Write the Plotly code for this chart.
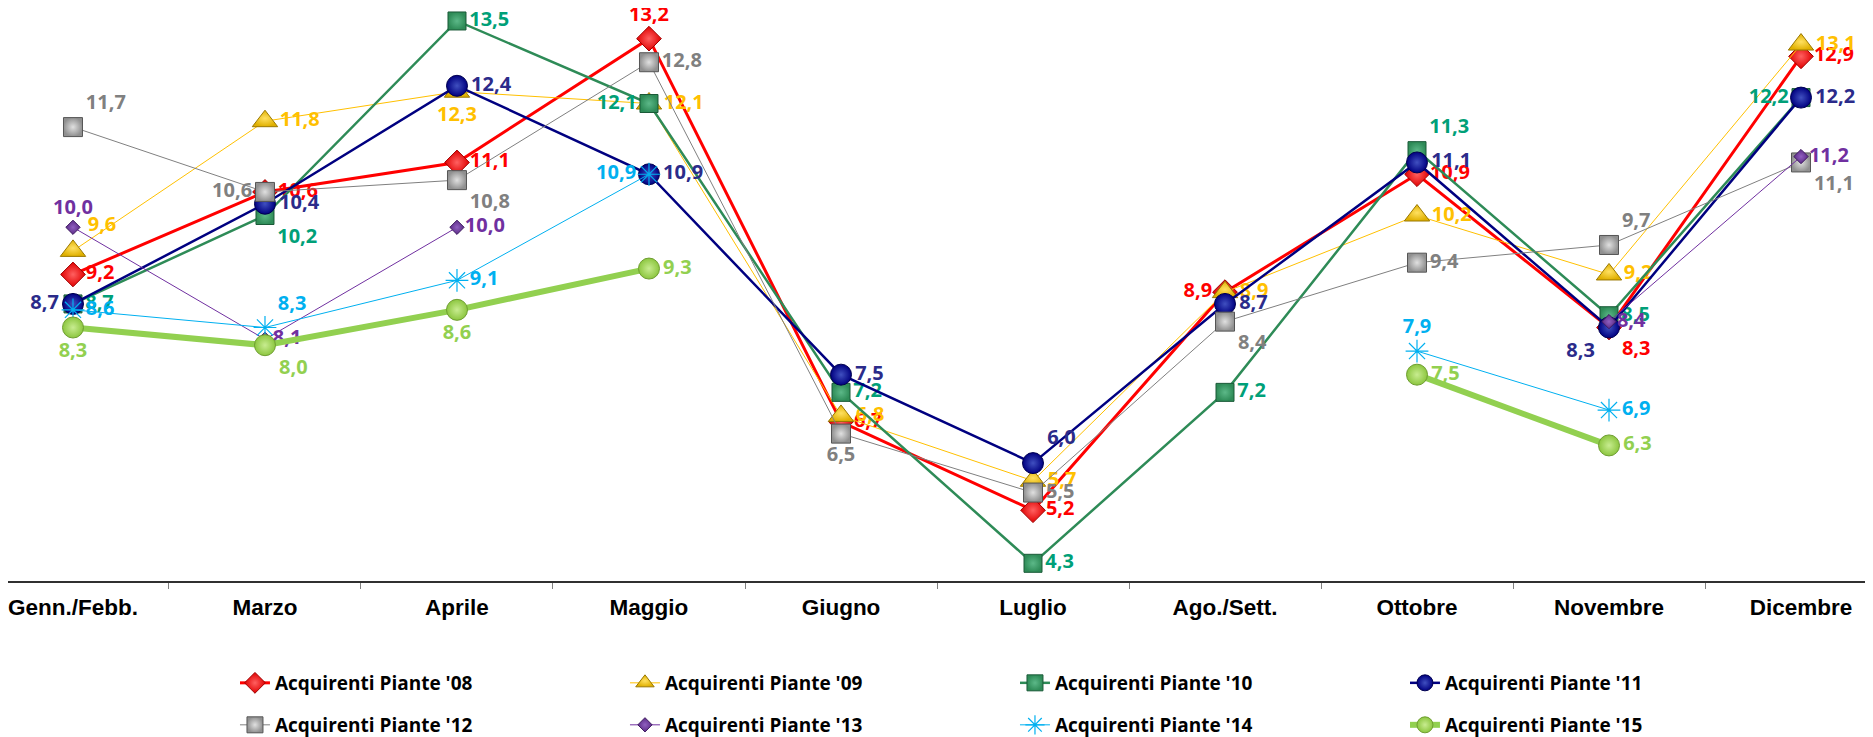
import plotly.graph_objects as go

categories = ["Genn./Febb.", "Marzo", "Aprile", "Maggio", "Giugno", "Luglio",
              "Ago./Sett.", "Ottobre", "Novembre", "Dicembre"]

v08 = [9.2, 10.6, 11.1, 13.2, 6.7, 5.2, 8.9, 10.9, 8.3, 12.9]
v09 = [9.6, 11.8, 12.3, 12.1, 6.8, 5.7, 8.9, 10.2, 9.2, 13.1]
v10 = [8.7, 10.2, 13.5, 12.1, 7.2, 4.3, 7.2, 11.3, 8.5, 12.2]
v11 = [8.7, 10.4, 12.4, 10.9, 7.5, 6.0, 8.7, 11.1, 8.3, 12.2]
v12 = [11.7, 10.6, 10.8, 12.8, 6.5, 5.5, 8.4, 9.4, 9.7, 11.1]
v13 = [10.0, 8.1, 10.0, None, None, None, None, None, 8.4, 11.2]
v14 = [8.6, 8.3, 9.1, 10.9, None, None, None, 7.9, 6.9, None]
v15 = [8.3, 8.0, 8.6, 9.3, None, None, None, 7.5, 6.3, None]

names = ["Acquirenti Piante '08", "Acquirenti Piante '09", "Acquirenti Piante '10",
         "Acquirenti Piante '11", "Acquirenti Piante '12", "Acquirenti Piante '13",
         "Acquirenti Piante '14", "Acquirenti Piante '15"]

MR, ML, TC, BC, TR, BR, BL = ("middle right", "middle left", "top center", "bottom center",
                              "top right", "bottom right", "bottom left")
pos08 = [MR, MR, MR, TC, MR, MR, ML, MR, BR, MR]
pos09 = [TR, MR, BC, MR, MR, MR, MR, MR, MR, MR]
pos10 = [MR, BR, MR, ML, MR, MR, MR, TR, MR, ML]
pos11 = [ML, MR, MR, MR, MR, TR, MR, MR, BL, MR]
pos12 = [TR, ML, BR, MR, BC, MR, BR, MR, TR, BR]
pos13 = [TC, MR, MR, MR, MR, MR, MR, MR, MR, MR]
pos14 = [MR, TR, MR, ML, MR, MR, MR, TC, MR, MR]
pos15 = [BC, BR, BC, MR, MR, MR, MR, MR, MR, MR]

styles = [
    dict(v=v08, pos=pos08, line="#FF0000", lw=3, sym="diamond", ms=19, mc="#E00000", ml="#A00000", tc="#FF0000", grad="#FF6060"),
    dict(v=v09, pos=pos09, line="#FFC000", lw=1, sym="triangle-up", ms=22, mc="#E0B000", ml="#9A7800", tc="#FFC000", grad="#FFE060"),
    dict(v=v10, pos=pos10, line="#2E8B57", lw=2.5, sym="square", ms=18, mc="#2E8B57", ml="#1A5A38", tc="#00A078", grad="#5CB888"),
    dict(v=v11, pos=pos11, line="#000080", lw=2.5, sym="circle", ms=21, mc="#000080", ml="#000050", tc="#2B2B8A", grad="#4050C0"),
    dict(v=v12, pos=pos12, line="#808080", lw=1, sym="square", ms=19, mc="#909090", ml="#555555", tc="#808080", grad="#E0E0E0"),
    dict(v=v13, pos=pos13, line="#7030A0", lw=1, sym="diamond", ms=11, mc="#5B2A86", ml="#3E1A60", tc="#7030A0", grad="#9060C0"),
    dict(v=v14, pos=pos14, line="#00B0F0", lw=1, sym="asterisk-open", ms=19, mc="#00B0F0", ml="#00B0F0", tc="#00B0F0", grad=None),
    dict(v=v15, pos=pos15, line="#92D050", lw=6, sym="circle", ms=21, mc="#8CC63F", ml="#6E9E30", tc="#92D050", grad="#C8EC90"),
]

LABEL_FONT = "Open Sans, Noto Sans, sans-serif"

fig = go.Figure()
for i, (nm, s) in enumerate(zip(names, styles)):
    texts = ["" if val is None else f"{val:.1f}".replace(".", ",") for val in s["v"]]
    marker = dict(symbol=s["sym"], size=s["ms"], color=s["mc"],
                  line=dict(color=s["ml"], width=1))
    if s["grad"]:
        marker["gradient"] = dict(type="radial", color=s["grad"])
    else:
        marker["line"] = dict(color=s["ml"], width=1.2)
    fig.add_trace(go.Scatter(
        x=categories, y=s["v"], name=nm, mode="lines+markers+text",
        line=dict(color=s["line"], width=s["lw"]),
        marker=marker,
        text=texts, textposition=s["pos"],
        textfont=dict(family=LABEL_FONT, size=20, color=s["tc"], weight="bold"),
        connectgaps=False,
        legend="legend" if i < 4 else "legend2",
        cliponaxis=False,
    ))

legend_common = dict(
    orientation="h", xref="container", yref="container", xanchor="left", yanchor="middle",
    font=dict(family=LABEL_FONT, size=19, color="#000000", weight="bold"),
    entrywidth=345, entrywidthmode="pixels", bgcolor="rgba(0,0,0,0)",
    itemsizing="trace", traceorder="normal", borderwidth=0,
)

fig.update_layout(
    width=1865, height=729,
    margin=dict(l=0, r=0, t=0, b=156, pad=0),
    paper_bgcolor="white", plot_bgcolor="white",
    showlegend=True,
    legend=dict(x=0.1217, y=0.0741, **legend_common),
    legend2=dict(x=0.1217, y=0.0165, **legend_common),
    xaxis=dict(
        type="category", categoryorder="array", categoryarray=categories,
        range=[-0.3385, 9.375],
        showline=True, linecolor="#303030", linewidth=1.5,
        ticks="outside", tickson="boundaries", ticklen=6, tickcolor="#808080", tickwidth=1,
        showgrid=False, zeroline=False,
        tickfont=dict(family="Liberation Sans, Arial, sans-serif", size=22.5, color="#000000", weight="bold"),
        ticklabelstandoff=5,
    ),
    yaxis=dict(range=[4, 13.72], visible=False, showgrid=False, zeroline=False),
)

fig.write_html("out.html")
